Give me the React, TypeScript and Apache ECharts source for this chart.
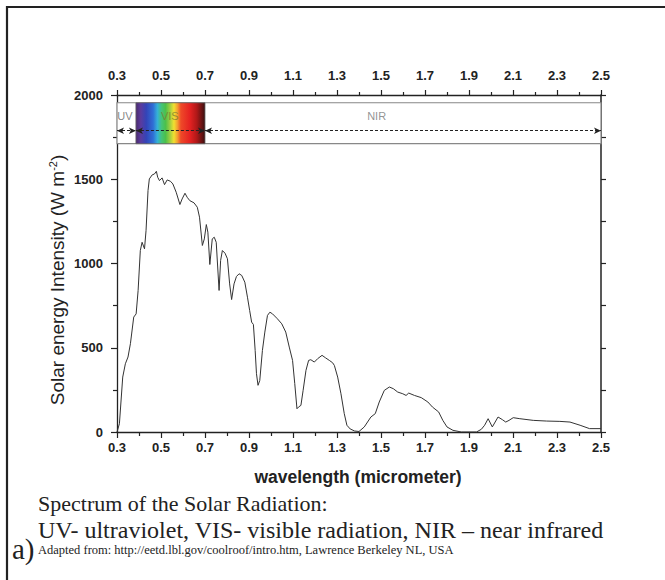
import React, { useEffect, useRef } from "react";
import * as echarts from "echarts";

const X0 = 0.3;
const xTickLabels = ["0.3", "0.5", "0.7", "0.9", "1.1", "1.3", "1.5", "1.7", "1.9", "2.1", "2.3", "2.5"];
const yTicks = [0, 500, 1000, 1500, 2000];

const wavelength = [
  0.3, 0.311, 0.326, 0.338, 0.35, 0.361, 0.376, 0.387, 0.396, 0.406,
  0.414, 0.425, 0.432, 0.441, 0.447, 0.46, 0.47, 0.479, 0.485, 0.493,
  0.505, 0.516, 0.528, 0.543, 0.554, 0.569, 0.586, 0.596, 0.609, 0.619,
  0.631, 0.65, 0.665, 0.675, 0.688, 0.697, 0.706, 0.713, 0.722, 0.733,
  0.742, 0.751, 0.764, 0.771, 0.779, 0.791, 0.802, 0.812, 0.821, 0.832,
  0.843, 0.855, 0.867, 0.881, 0.893, 0.903, 0.912, 0.92, 0.928, 0.934,
  0.941, 0.949, 0.961, 0.972, 0.984, 0.995, 1.007, 1.029, 1.049, 1.067,
  1.083, 1.098, 1.108, 1.118, 1.125, 1.136, 1.146, 1.159, 1.171, 1.181,
  1.197, 1.212, 1.232, 1.247, 1.265, 1.28, 1.288, 1.303, 1.318, 1.333,
  1.345, 1.36, 1.38, 1.4, 1.424, 1.454, 1.474, 1.492, 1.515, 1.538,
  1.556, 1.576, 1.599, 1.614, 1.626, 1.652, 1.683, 1.713, 1.734, 1.762,
  1.781, 1.8, 1.827, 1.85, 1.865, 1.934, 1.956, 1.971, 1.987, 2.006,
  2.032, 2.052, 2.067, 2.082, 2.101, 2.131, 2.192, 2.253, 2.313, 2.359,
  2.405, 2.448, 2.5,
];

const intensity = [
  0, 49, 326, 405, 445, 524, 682, 701, 840, 1077,
  1126, 1087, 1195, 1433, 1502, 1526, 1531, 1547, 1512, 1492,
  1508, 1468, 1496, 1488, 1472, 1423, 1350, 1383, 1417, 1393,
  1373, 1360, 1334, 1275, 1107, 1146, 1231, 1186, 994, 1146,
  1156, 1126, 840, 1018, 1077, 1061, 1028, 879, 786, 879,
  923, 939, 929, 889, 800, 721, 652, 638, 484, 346,
  277, 306, 484, 593, 692, 711, 701, 672, 642, 593,
  504, 425, 287, 138, 148, 158, 247, 366, 425, 429,
  415, 435, 455, 441, 425, 411, 395, 326, 227, 109,
  40, 18, 6, 3, 30, 89, 109, 178, 247, 267,
  257, 237, 227, 217, 231, 217, 204, 178, 148, 119,
  69, 30, 10, 4, 0, 0, 16, 40, 79, 30,
  89, 73, 59, 69, 85, 79, 69, 65, 63, 59,
  40, 20, 20,
];

// Band regions (wavelength bounds) and labels
const bandNames = ["UV", "VIS", "NIR"];
const bandStart = [0.3, 0.386, 0.7];
const bandEnd = [0.386, 0.7, 2.5];
const bandLabelX = [0.336, 0.54, 1.48];
const bandBottom = 1711;
const bandTop = 1954;
const arrowY = 1788;
const labelY = 1877;

const AXIS_COLOR = "#222";

export default function App() {
  const ref = useRef<HTMLDivElement>(null);
  useEffect(() => {
    if (!ref.current) return;
    const chart = echarts.init(ref.current, null, { renderer: "svg" });
    const sx = (w: number) => +(w - X0).toFixed(4);
    const lineData = wavelength.map((w, i) => [sx(w), intensity[i]]);
    const fmt = (v: number) => {
      const s = (v + X0).toFixed(1);
      return xTickLabels.indexOf(s) >= 0 ? s : "";
    };
    const labelFont = {
      fontFamily: "Liberation Sans, Arial, sans-serif",
      fontWeight: "bold" as const,
      fontSize: 13,
      color: "#222",
    };
    const xBase = (pos: "top" | "bottom", margin: number, tl: number, ml: number) => ({
      type: "value" as const,
      position: pos,
      min: 0,
      max: 2.2,
      interval: 0.2,
      axisLine: { show: true, onZero: false, lineStyle: { color: AXIS_COLOR, width: 1.3 } },
      axisTick: { show: true, length: tl, lineStyle: { color: AXIS_COLOR, width: 1.2 } },
      minorTick: { show: true, splitNumber: 2, length: ml, lineStyle: { color: AXIS_COLOR, width: 1.2 } },
      splitLine: { show: false },
      axisLabel: { ...labelFont, margin, formatter: fmt },
    });
    const spectrum = new echarts.graphic.LinearGradient(0, 0, 1, 0, [
      { offset: 0, color: "#4a2a6e" },
      { offset: 0.07, color: "#5b3b9e" },
      { offset: 0.15, color: "#3344b8" },
      { offset: 0.25, color: "#2f6fd6" },
      { offset: 0.31, color: "#35b0d8" },
      { offset: 0.37, color: "#44c47a" },
      { offset: 0.43, color: "#4cc04a" },
      { offset: 0.5, color: "#a8d040" },
      { offset: 0.55, color: "#f0e030" },
      { offset: 0.6, color: "#f5a030" },
      { offset: 0.65, color: "#ee4a28" },
      { offset: 0.78, color: "#e52222" },
      { offset: 0.88, color: "#b01818" },
      { offset: 1, color: "#3a1010" },
    ]);
    const labelColors = ["#666", "#7d7d30", "#777"];
    chart.setOption({
      animation: false,
      backgroundColor: "#fff",
      grid: { left: 117, top: 95, width: 484, height: 337 },
      xAxis: [xBase("bottom", 9, 6, 4), xBase("top", 13, 5, 3)],
      yAxis: [
        {
          type: "value",
          position: "left",
          min: 0,
          max: 2000,
          interval: 500,
          axisLine: { show: true, onZero: false, lineStyle: { color: AXIS_COLOR, width: 1.3 } },
          axisTick: { show: true, length: 6, lineStyle: { color: AXIS_COLOR, width: 1.2 } },
          minorTick: { show: true, splitNumber: 2, length: 4, lineStyle: { color: AXIS_COLOR, width: 1.2 } },
          splitLine: { show: false },
          axisLabel: {
            ...labelFont,
            margin: 14,
            formatter: (v: number) => (yTicks.indexOf(v) >= 0 ? String(v) : ""),
          },
        },
        {
          type: "value",
          position: "right",
          min: 0,
          max: 2000,
          interval: 250,
          axisLine: { show: true, onZero: false, lineStyle: { color: AXIS_COLOR, width: 1.5 } },
          axisTick: { show: true, length: 5, lineStyle: { color: AXIS_COLOR, width: 1.2 } },
          splitLine: { show: false },
          axisLabel: { show: false },
        },
      ],
      series: [
        {
          type: "line",
          xAxisIndex: 0,
          yAxisIndex: 0,
          data: lineData,
          symbol: "none",
          smooth: false,
          lineStyle: { color: "#333", width: 1 },
          silent: true,
          markArea: {
            silent: true,
            label: { show: false },
            data: [
              [
                { coord: [sx(0.3), bandBottom], itemStyle: { color: "#fff", borderColor: "#888", borderWidth: 1.2 } },
                { coord: [sx(2.5), bandTop] },
              ],
              [
                { coord: [sx(bandStart[1]), bandBottom], itemStyle: { color: spectrum, borderColor: "#666", borderWidth: 0.8 } },
                { coord: [sx(bandEnd[1]), bandTop] },
              ],
            ],
          },
          markLine: {
            silent: true,
            symbol: ["arrow", "arrow"],
            symbolSize: [5, 7],
            label: { show: false },
            lineStyle: { type: [3, 2], color: "#222", width: 1 },
            data: bandNames.map((_, i) => [
              { coord: [sx(bandStart[i]), arrowY] },
              { coord: [sx(bandEnd[i]), arrowY] },
            ]),
          },
        },
        {
          type: "scatter",
          xAxisIndex: 0,
          yAxisIndex: 0,
          symbolSize: 0,
          silent: true,
          data: bandNames.map((n, i) => ({
            value: [sx(bandLabelX[i]), labelY, n],
            label: { color: labelColors[i] },
          })),
          label: {
            show: true,
            position: "inside",
            formatter: (p: any) => p.value[2],
            fontFamily: "Liberation Sans, Arial, sans-serif",
            fontSize: 11,
          },
        },
      ],
      graphic: [
        { type: "line", shape: { x1: 7, y1: 7, x2: 665, y2: 7 }, style: { stroke: "#222", lineWidth: 2.2 } },
        { type: "line", shape: { x1: 7, y1: 6, x2: 7, y2: 580 }, style: { stroke: "#222", lineWidth: 2.2 } },
        {
          type: "text",
          x: 57,
          y: 280,
          rotation: Math.PI / 2,
          style: {
            text: "Solar energy Intensity (W m{sup|-2})",
            fontFamily: "Liberation Sans, Arial, sans-serif",
            fontSize: 19,
            fill: "#222",
            textAlign: "center",
            textVerticalAlign: "middle",
            rich: {
              sup: { fontSize: 11, verticalAlign: "top", fill: "#222" },
            },
          },
        },
        {
          type: "text",
          x: 358,
          y: 477,
          style: {
            text: "wavelength (micrometer)",
            fontFamily: "Liberation Sans, Arial, sans-serif",
            fontWeight: "bold",
            fontSize: 17.5,
            fill: "#222",
            textAlign: "center",
            textVerticalAlign: "middle",
          },
        },
        {
          type: "text",
          x: 38,
          y: 503,
          style: {
            text: "Spectrum of the Solar Radiation:",
            fontFamily: "Liberation Serif, Times New Roman, serif",
            fontSize: 22,
            fill: "#222",
            textVerticalAlign: "middle",
          },
        },
        {
          type: "text",
          x: 38,
          y: 530,
          style: {
            text: "UV- ultraviolet, VIS- visible radiation, NIR \u2013 near infrared",
            fontFamily: "Liberation Serif, Times New Roman, serif",
            fontSize: 24,
            fill: "#222",
            textVerticalAlign: "middle",
          },
        },
        {
          type: "text",
          x: 12,
          y: 549,
          style: {
            text: "a)",
            fontFamily: "Liberation Serif, Times New Roman, serif",
            fontSize: 29,
            fill: "#222",
            textVerticalAlign: "middle",
          },
        },
        {
          type: "text",
          x: 38,
          y: 550,
          style: {
            text: "Adapted from: http://eetd.lbl.gov/coolroof/intro.htm, Lawrence Berkeley NL, USA",
            fontFamily: "Liberation Serif, Times New Roman, serif",
            fontSize: 12.5,
            fill: "#222",
            textVerticalAlign: "middle",
          },
        },
      ],
    });
    return () => chart.dispose();
  }, []);
  return (
    <div
      ref={ref}
      style={{ position: "absolute", left: 0, top: 0, width: 665, height: 580, background: "#fff" }}
    />
  );
}
